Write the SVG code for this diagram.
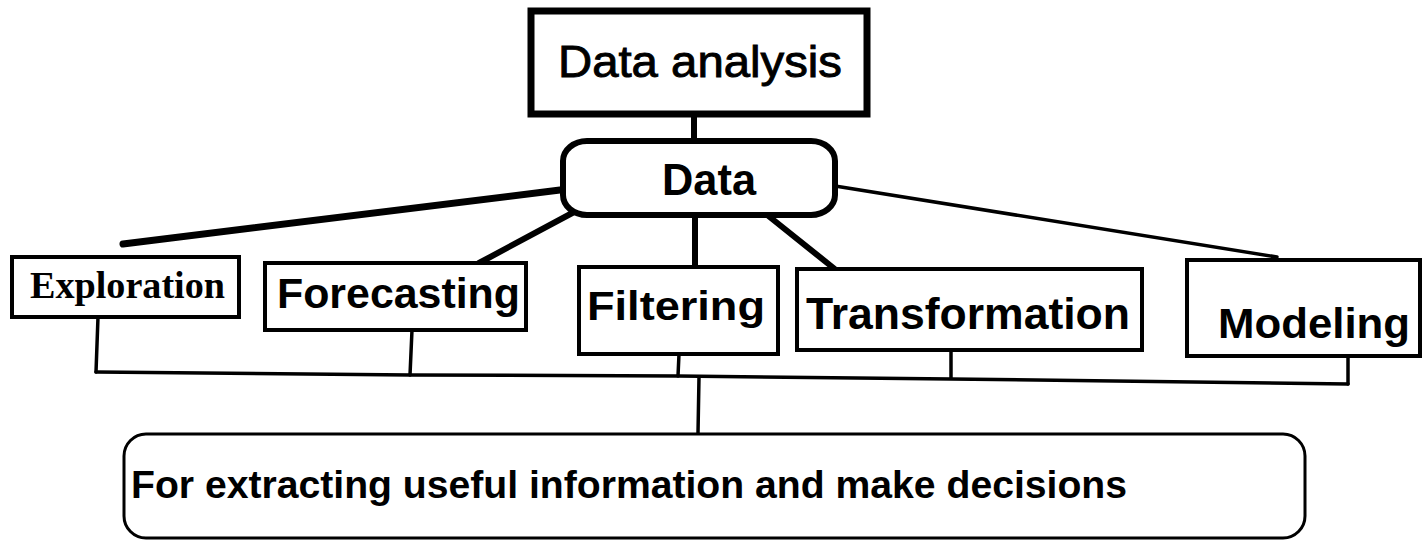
<svg xmlns="http://www.w3.org/2000/svg" width="1425" height="542" viewBox="0 0 1425 542">
  <style>
    .box { fill: #fff; stroke: #000; }
    .lbl { font-family: "Liberation Sans", Arial, sans-serif; font-weight: bold; fill: #000; text-anchor: middle; }
    .reg { font-family: "Liberation Sans", Arial, sans-serif; font-weight: normal; fill: #000; stroke: #000; stroke-width: 0.9; text-anchor: middle; }
    .ser { font-family: "Liberation Serif", "Times New Roman", serif; font-weight: bold; fill: #000; text-anchor: middle; }
    .con { stroke: #000; fill: none; stroke-linecap: round; stroke-linejoin: round; }
  </style>
  <rect width="1425" height="542" fill="#fff"/>
  <g id="connectors">
    <line class="con" x1="694" y1="114" x2="694" y2="142" stroke-width="6"/>
    <line class="con" x1="560" y1="190" x2="123" y2="244" stroke-width="7"/>
    <line class="con" x1="576" y1="211" x2="479" y2="263" stroke-width="6"/>
    <line class="con" x1="695" y1="216" x2="695" y2="267" stroke-width="6"/>
    <line class="con" x1="766" y1="214" x2="836" y2="270" stroke-width="6"/>
    <line class="con" x1="835" y1="186" x2="1277" y2="257" stroke-width="3.5"/>
    <line class="con" x1="98" y1="317" x2="96" y2="372" stroke-width="3.5"/>
    <line class="con" x1="412" y1="330" x2="410" y2="375" stroke-width="3.5"/>
    <line class="con" x1="679" y1="354" x2="678" y2="376" stroke-width="3.5"/>
    <line class="con" x1="951" y1="350" x2="951" y2="378" stroke-width="3.5"/>
    <line class="con" x1="1348" y1="356" x2="1348" y2="384" stroke-width="3.5"/>
    <polyline class="con" points="96,372 410,375 678,376 951,379 1348,384" stroke-width="3.5"/>
    <line class="con" x1="699" y1="377" x2="698" y2="433" stroke-width="3.5"/>
  </g>
  <g id="node-data-analysis">
    <rect class="box" x="531" y="11" width="336" height="103" stroke-width="7"/>
    <text class="reg" x="700" y="77" font-size="44" textLength="284" lengthAdjust="spacingAndGlyphs">Data analysis</text>
  </g>
  <g id="node-data">
    <rect class="box" x="563" y="141" width="272" height="74" rx="24" ry="20" stroke-width="6"/>
    <text class="lbl" x="709" y="195" font-size="44" textLength="94" lengthAdjust="spacingAndGlyphs">Data</text>
  </g>
  <g id="node-exploration">
    <rect class="box" x="12" y="257" width="227" height="60" stroke-width="4"/>
    <text class="ser" x="127.5" y="298" font-size="37" textLength="195" lengthAdjust="spacingAndGlyphs">Exploration</text>
  </g>
  <g id="node-forecasting">
    <rect class="box" x="265" y="263" width="261" height="67" stroke-width="4"/>
    <text class="lbl" x="398.5" y="308" font-size="43" textLength="243" lengthAdjust="spacingAndGlyphs">Forecasting</text>
  </g>
  <g id="node-filtering">
    <rect class="box" x="579" y="267" width="199" height="87" stroke-width="4"/>
    <text class="lbl" x="676" y="320" font-size="41" textLength="178" lengthAdjust="spacingAndGlyphs">Filtering</text>
  </g>
  <g id="node-transformation">
    <rect class="box" x="797" y="269" width="345" height="81" stroke-width="4"/>
    <text class="lbl" x="968" y="329" font-size="44" textLength="324" lengthAdjust="spacingAndGlyphs">Transformation</text>
  </g>
  <g id="node-modeling">
    <rect class="box" x="1187" y="260" width="233" height="96" stroke-width="4"/>
    <text class="lbl" x="1314" y="338" font-size="42" textLength="192" lengthAdjust="spacingAndGlyphs">Modeling</text>
  </g>
  <g id="node-result">
    <rect class="box" x="124" y="434" width="1181" height="104" rx="22" ry="22" stroke-width="3"/>
    <text class="lbl" x="629" y="498" font-size="38" textLength="996" lengthAdjust="spacingAndGlyphs">For extracting useful information and make decisions</text>
  </g>
</svg>
